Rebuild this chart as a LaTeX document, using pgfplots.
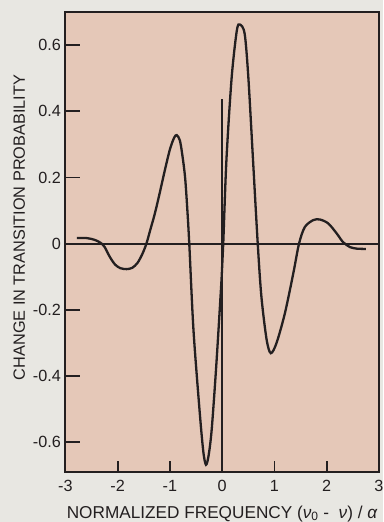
\documentclass[border=0pt]{standalone}
\usepackage{pgfplots}
\pgfplotsset{compat=1.18}
\usepackage{fontspec}
\setmainfont{Liberation Sans}
\definecolor{outerbg}{RGB}{232,231,226}
\definecolor{plotbg}{RGB}{229,200,184}
\definecolor{ink}{RGB}{35,31,32}
\begin{document}
\begin{tikzpicture}
\fill[outerbg] (-65.4pt,-50pt) rectangle (317.6pt,472pt);
\begin{axis}[
  at={(0,0)}, anchor=south west,
  scale only axis, width=313.6pt, height=460pt,
  xmin=-3, xmax=3, ymin=-0.69, ymax=0.70,
  axis background/.style={fill=plotbg},
  axis line style={ink, line width=1.8pt},
  tick align=inside, tick pos=left,
  xtick={-3,-2,-1,0,1,2,3},
  xticklabels={-3,-2,-1,0,1,2,3},
  ytick={-0.6,-0.4,-0.2,0,0.2,0.4,0.6},
  yticklabels={-0.6,-0.4,-0.2,0,0.2,0.4,0.6},
  tick style={draw=none},
  tick label style={font=\fontsize{16.2}{19}\selectfont, text=ink},
  yticklabel style={anchor=east, inner sep=0pt, xshift=-4.4pt},
  xticklabel style={anchor=north, inner sep=0pt, yshift=-8pt},
  xlabel={NORMALIZED FREQUENCY (\textit{ν}\textsubscript{0}~-~~\textit{ν})~/~\textit{α}},
  ylabel={CHANGE IN TRANSITION PROBABILITY},
  xlabel style={at={([yshift=-46pt]rel axis cs:0.5,0)}, anchor=base, inner sep=0pt, font=\fontsize{17.2}{20}\selectfont, text=ink},
  ylabel style={at={([xshift=-40.4pt]rel axis cs:0,0.5315)}, anchor=base, inner sep=0pt, font=\fontsize{16.3}{19}\selectfont, text=ink},
]
\addplot[ink, line width=2.0pt] coordinates {(-3,0) (3,0)};
\addplot[ink, line width=2.4pt] coordinates {(0,-0.69) (0,0.438)};
\addplot[ink, line width=2.3pt, smooth] coordinates {
(-2.78,0.017) (-2.60,0.017) (-2.45,0.012) (-2.33,0.003) (-2.25,-0.010)
(-2.15,-0.040) (-2.05,-0.063) (-1.95,-0.074) (-1.83,-0.077) (-1.72,-0.073)
(-1.62,-0.058) (-1.53,-0.032) (-1.45,0.0) (-1.37,0.045) (-1.29,0.090)
(-1.20,0.150) (-1.10,0.220) (-1.00,0.285) (-0.92,0.320) (-0.87,0.328)
(-0.81,0.312) (-0.76,0.265) (-0.71,0.200) (-0.67,0.110) (-0.63,0.0)
(-0.55,-0.260) (-0.43,-0.510) (-0.36,-0.630) (-0.31,-0.668) (-0.26,-0.640)
(-0.20,-0.560) (-0.11,-0.360) (-0.01,-0.100) (0.02,0.0) (0.08,0.250)
(0.18,0.500) (0.28,0.644) (0.34,0.662) (0.43,0.634) (0.50,0.503)
(0.59,0.252) (0.68,0.0) (0.75,-0.160) (0.85,-0.290) (0.93,-0.331)
(1.04,-0.300) (1.20,-0.210) (1.36,-0.090) (1.47,0.0) (1.58,0.050)
(1.74,0.071) (1.87,0.073) (2.03,0.061) (2.19,0.031) (2.31,0.005)
(2.44,-0.010) (2.57,-0.015) (2.75,-0.016)
};
\draw[ink, line width=1.8pt] (axis cs:-3,-0.6) -- ([xshift=14.7pt]axis cs:-3,-0.6);
\draw[ink, line width=1.8pt] (axis cs:-3,-0.4) -- ([xshift=14.7pt]axis cs:-3,-0.4);
\draw[ink, line width=1.8pt] (axis cs:-3,-0.2) -- ([xshift=14.7pt]axis cs:-3,-0.2);
\draw[ink, line width=1.8pt] (axis cs:-3,0.2) -- ([xshift=14.7pt]axis cs:-3,0.2);
\draw[ink, line width=1.8pt] (axis cs:-3,0.4) -- ([xshift=14.7pt]axis cs:-3,0.4);
\draw[ink, line width=1.8pt] (axis cs:-3,0.6) -- ([xshift=14.7pt]axis cs:-3,0.6);
\draw[ink, line width=1.8pt] (axis cs:-2,-0.69) -- ([yshift=10.7pt]axis cs:-2,-0.69);
\draw[ink, line width=1.8pt] (axis cs:-1,-0.69) -- ([yshift=10.7pt]axis cs:-1,-0.69);
\draw[ink, line width=1.8pt] (axis cs:1,-0.69) -- ([yshift=10.7pt]axis cs:1,-0.69);
\draw[ink, line width=1.8pt] (axis cs:2,-0.69) -- ([yshift=10.7pt]axis cs:2,-0.69);
\end{axis}
\pgfresetboundingbox
\useasboundingbox (-65.4pt,-50pt) rectangle (317.6pt,472pt);
\end{tikzpicture}
\end{document}
